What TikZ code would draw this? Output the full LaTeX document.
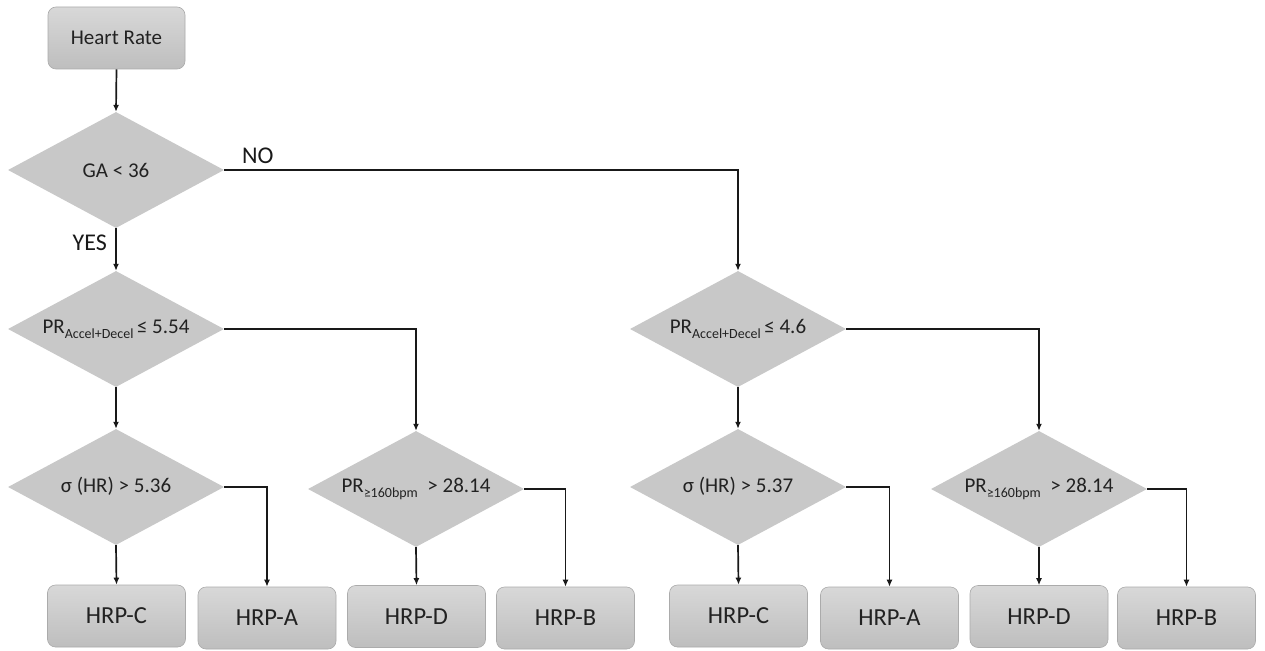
\documentclass[tikz,border=0pt]{standalone}
\usepackage{fontspec}
\setmainfont{Carlito}
\usetikzlibrary{shapes.geometric,arrows.meta}
\definecolor{boxtop}{HTML}{D8D8D8}
\definecolor{boxbot}{HTML}{BEBEBE}
\definecolor{boxedge}{HTML}{ABABAB}
\definecolor{dfill}{HTML}{C8C8C8}
\definecolor{ink}{HTML}{222222}
\tikzset{
  termbox/.style={rectangle, rounded corners=8pt, top color=boxtop, bottom color=boxbot,
    draw=boxedge, line width=0.6pt, minimum width=138pt, minimum height=62pt, inner sep=0pt,
    text=ink, font=\fontsize{24.5}{27}\selectfont},
  startbox/.style={termbox, minimum width=137pt, font=\fontsize{21}{24}\selectfont},
  decision/.style={diamond, fill=dfill, draw=none, aspect=1.85, minimum width=216pt,
    minimum height=116pt, inner sep=0pt, text=ink, font=\fontsize{21}{24}\selectfont},
  conn/.style={draw=black!90, line width=1.7pt, -{Latex[length=7pt,width=6pt]}},
  lbl/.style={text=black!90, font=\fontsize{24}{26}\selectfont, inner sep=0pt}
}
\newcommand{\sbs}[1]{\raisebox{-5pt}{\fontsize{14}{15}\selectfont #1}}
\begin{document}
\begin{tikzpicture}[x=1pt,y=-1pt]
\useasboundingbox[fill=white] (0,0) rectangle (1265,650);
% nodes
\node[startbox] (hr) at (116.5,38) {Heart Rate};
\node[decision] (ga) at (116,170) {GA < 36};
\node[decision] (pr1) at (116,329) {\raisebox{4pt}{PR\sbs{Accel+Decel}\,≤ 5.54}};
\node[decision] (sd1) at (116,487) {\raisebox{4pt}{σ (HR) > 5.36}};
\node[decision] (pc1) at (416,489) {\raisebox{4pt}{PR\sbs{≥160bpm}\ \ > 28.14}};
\node[decision] (pr2) at (738,329) {\raisebox{4pt}{PR\sbs{Accel+Decel}\,≤ 4.6}};
\node[decision] (sd2) at (738,487) {\raisebox{4pt}{σ (HR) > 5.37}};
\node[decision] (pc2) at (1039,489) {\raisebox{4pt}{PR\sbs{≥160bpm}\ \ > 28.14}};
\node[termbox] (c1) at (116.5,616) {HRP-C};
\node[termbox] (a1) at (267,618) {HRP-A};
\node[termbox] (d1) at (416.5,616.5) {HRP-D};
\node[termbox] (b1) at (565.5,618) {HRP-B};
\node[termbox] (c2) at (738.5,616) {HRP-C};
\node[termbox] (a2) at (889.5,618) {HRP-A};
\node[termbox] (d2) at (1039,616.5) {HRP-D};
\node[termbox] (b2) at (1186.5,618) {HRP-B};
% labels
\node[lbl, anchor=west] (nolbl) at (242,156) {NO};
\node[lbl, anchor=east] (yeslbl) at (107,243) {YES};
% connectors
\draw[conn] (hr.south) -- (ga.north);
\draw[conn] (ga.east) -| (pr2.north);
\draw[conn] (ga.south) -- (pr1.north);
\draw[conn] (pr1.south) -- (sd1.north);
\draw[conn] (pr1.east) -| (pc1.north);
\draw[conn] (sd1.south) -- (c1.north);
\draw[conn] (sd1.east) -| (a1.north);
\draw[conn] (pc1.south) -- (d1.north);
\draw[conn] (pc1.east) -| (b1.north);
\draw[conn] (pr2.south) -- (sd2.north);
\draw[conn] (pr2.east) -| (pc2.north);
\draw[conn] (sd2.south) -- (c2.north);
\draw[conn] (sd2.east) -| (a2.north);
\draw[conn] (pc2.south) -- (d2.north);
\draw[conn] (pc2.east) -| (b2.north);
\end{tikzpicture}
\end{document}
